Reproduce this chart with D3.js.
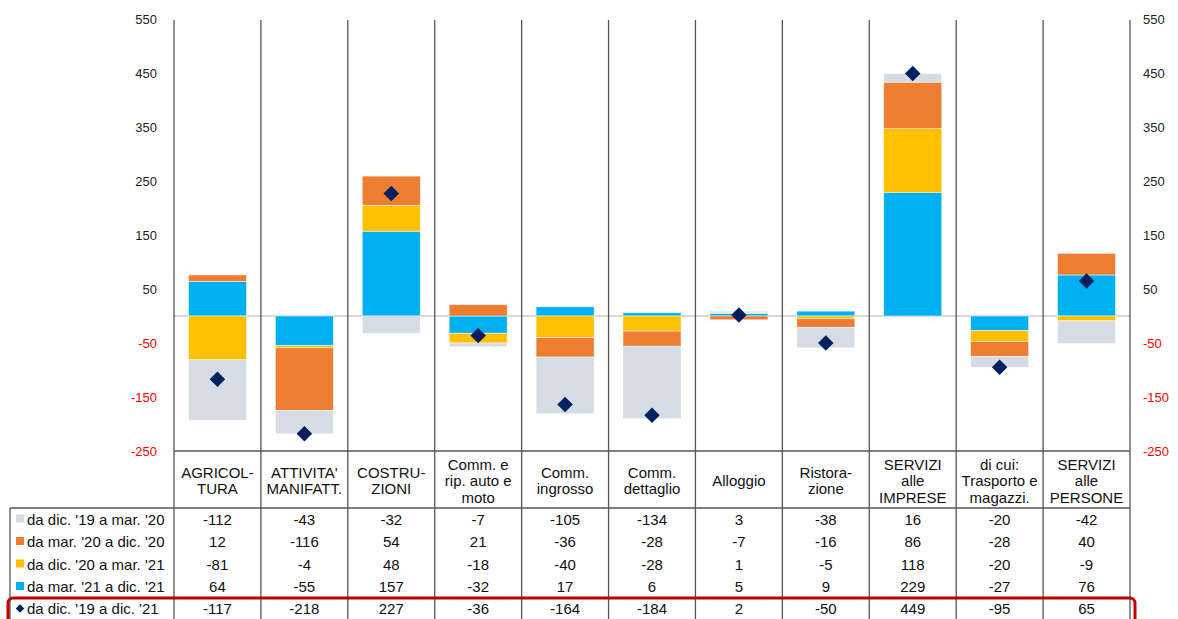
<!DOCTYPE html>
<html><head><meta charset="utf-8">
<script src="https://cdn.jsdelivr.net/npm/d3@7"></script>
<style>body{margin:0;background:#fff}svg{display:block;font-family:"Liberation Sans",Arial,sans-serif}</style>
</head><body><svg id="c" width="1178" height="619"></svg>
<script>
const categories = [
  ["AGRICOL-","TURA"],["ATTIVITA'","MANIFATT."],["COSTRU-","ZIONI"],
  ["Comm. e","rip. auto e","moto"],["Comm.","ingrosso"],["Comm.","dettaglio"],
  ["Alloggio"],["Ristora-","zione"],["SERVIZI","alle","IMPRESE"],
  ["di cui:","Trasporto e","magazzi."],["SERVIZI","alle","PERSONE"]
];
const seriesNames = ["da dic. '19 a mar. '20","da mar. '20 a dic. '20","da dic. '20 a mar. '21","da mar. '21 a dic. '21"];
const totalName = "da dic. '19 a dic. '21";
const decMar20 = [-112,-43,-32,-7,-105,-134,3,-38,16,-20,-42];
const marDec20 = [12,-116,54,21,-36,-28,-7,-16,86,-28,40];
const decMar21 = [-81,-4,48,-18,-40,-28,1,-5,118,-20,-9];
const marDec21 = [64,-55,157,-32,17,6,5,9,229,-27,76];
const totals = [-117,-218,227,-36,-164,-184,2,-50,449,-95,65];
const tickValues = [-250,-150,-50,50,150,250,350,450,550];
const colors = ["#d6dce4","#ed7d31","#ffc000","#00b0f0"];
const diamondColor = "#002060";

const seriesVals = [decMar20, marDec20, decMar21, marDec21];
const svg = d3.select("#c");
const x0 = 174, x1 = 1130;
const y = d3.scaleLinear().domain([-250,550]).range([451,19]);
const x = d3.scaleBand().domain(d3.range(categories.length)).range([x0,x1]).paddingInner(0).paddingOuter(0);
const bw = 58;

const rows = categories.map((c,i)=>({i, s0:decMar20[i], s1:marDec20[i], s2:decMar21[i], s3:marDec21[i]}));
const keys = ["s3","s2","s1","s0"];
const stack = d3.stack().keys(keys).offset(d3.stackOffsetDiverging)(rows);

svg.append("line").attr("x1",x0).attr("x2",x1).attr("y1",y(0)).attr("y2",y(0))
  .attr("stroke","#d9d9d9").attr("stroke-width",2);

stack.forEach(layer=>{
  const k = +layer.key.slice(1);
  svg.append("g").selectAll("rect").data(layer).join("rect")
    .attr("x",d=>x(d.data.i)+x.bandwidth()/2-bw/2)
    .attr("width",bw)
    .attr("y",d=>y(Math.max(d[0],d[1])))
    .attr("height",d=>Math.abs(y(d[0])-y(d[1])))
    .attr("fill",colors[k])
    .attr("stroke","#fff").attr("stroke-opacity",0.6).attr("stroke-width",0.8);
});

const lineCol = "#555";
d3.range(categories.length+1).forEach(j=>{
  const xx = x0 + j*x.bandwidth();
  svg.append("line").attr("x1",xx).attr("x2",xx).attr("y1",20).attr("y2",619)
    .attr("stroke",lineCol).attr("stroke-width",1.3);
});

svg.append("g").selectAll("path").data(totals).join("path")
  .attr("d",d3.symbol().type(d3.symbolSquare).size(120))
  .attr("transform",(d,i)=>`translate(${x(i)+x.bandwidth()/2},${y(d)}) rotate(45)`)
  .attr("fill",diamondColor);

const fmt = d=>d;
const la = svg.append("g").attr("transform","translate(157,0)")
  .call(d3.axisLeft(y).tickValues(tickValues).tickSize(0).tickPadding(0).tickFormat(fmt));
const ra = svg.append("g").attr("transform","translate(1143,0)")
  .call(d3.axisRight(y).tickValues(tickValues).tickSize(0).tickPadding(0).tickFormat(fmt));
[la,ra].forEach(a=>{
  a.select(".domain").remove();
  a.selectAll("text").attr("font-size",13).attr("font-family","Liberation Sans, Arial, sans-serif")
    .attr("fill",d=>d<0?"#ff0000":"#222");
});

const tTop = 451, hBot = 508;
svg.append("line").attr("x1",x0).attr("x2",x1).attr("y1",tTop).attr("y2",tTop).attr("stroke",lineCol).attr("stroke-width",1.3);
svg.append("line").attr("x1",10).attr("x2",x1).attr("y1",hBot).attr("y2",hBot).attr("stroke",lineCol).attr("stroke-width",1.3);
svg.append("line").attr("x1",10).attr("x2",10).attr("y1",hBot).attr("y2",619).attr("stroke",lineCol).attr("stroke-width",1.3);

categories.forEach((lines,i)=>{
  const cx = x(i)+x.bandwidth()/2;
  const lh = 16.5;
  const mid = 480.5;
  const t = svg.append("text").attr("text-anchor","middle").attr("font-size",15).attr("fill","#111");
  lines.forEach((l,k)=>{
    t.append("tspan").attr("x",cx).attr("y",mid + (k-(lines.length-1)/2)*lh + 5.5).text(l);
  });
});

const allRows = seriesVals.map((v,k)=>({name:seriesNames[k], vals:v, color:colors[k], type:"sq"}))
  .concat([{name:totalName, vals:totals, color:diamondColor, type:"dia"}]);
const rowY = [519,541.5,564,586.5,608.5];
allRows.forEach((r,k)=>{
  const yy = rowY[k];
  if(r.type==="sq"){
    svg.append("rect").attr("x",16).attr("y",yy-4.5).attr("width",8).attr("height",8).attr("fill",r.color);
  } else {
    svg.append("path").attr("d",d3.symbol().type(d3.symbolSquare).size(36))
      .attr("transform",`translate(20,${yy}) rotate(45)`).attr("fill",r.color);
  }
  svg.append("text").attr("x",27).attr("y",yy+5.5).attr("font-size",15).attr("fill","#111").text(r.name);
  r.vals.forEach((v,i)=>{
    svg.append("text").attr("x",x(i)+x.bandwidth()/2).attr("y",yy+5.5).attr("text-anchor","middle")
      .attr("font-size",15).attr("fill","#111").text(v);
  });
});

svg.append("rect").attr("x",8).attr("y",598).attr("width",1127).attr("height",40).attr("rx",5)
  .attr("fill","none").attr("stroke","#c00000").attr("stroke-width",3);
</script></body></html>
